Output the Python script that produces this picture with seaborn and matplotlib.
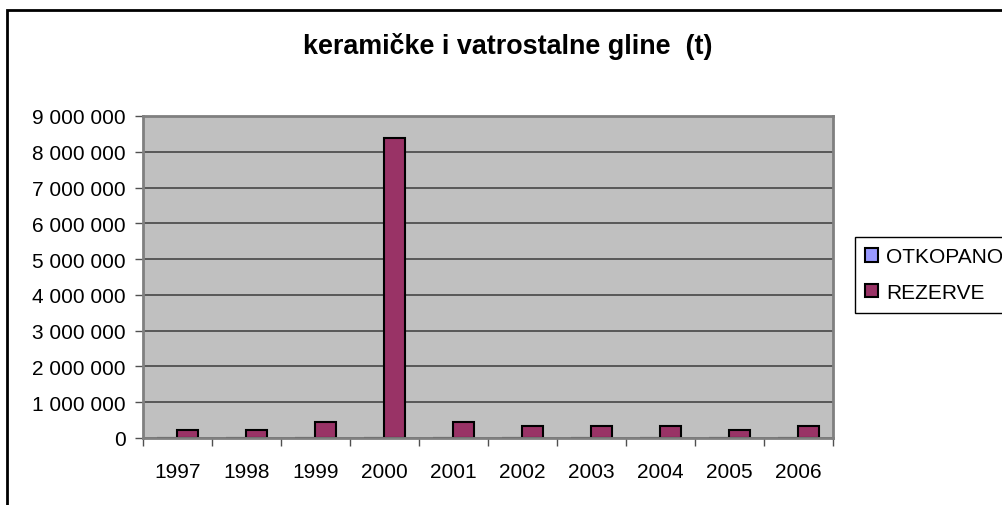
import matplotlib
matplotlib.use("Agg")
import matplotlib.pyplot as plt
import matplotlib.patches as mpatches
from matplotlib.ticker import FuncFormatter, FixedLocator
import pandas as pd
import seaborn as sns


# -----------------------------
# Data
# -----------------------------

years = ["1997", "1998", "1999", "2000", "2001",
         "2002", "2003", "2004", "2005", "2006"]

otkopano = [6000, 6000, 8000, 9000, 8000, 7000, 7000, 7000, 6000, 7000]

rezerve = [220000, 220000, 450000, 8380000, 450000,
           330000, 330000, 330000, 220000, 330000]

series = ["OTKOPANO", "REZERVE"]
colors = ["#9999FF", "#993366"]

title = "keramičke i vatrostalne gline  (t)"

df = pd.DataFrame({
    "godina": years * 2,
    "serija": [series[0]] * len(years) + [series[1]] * len(years),
    "tona": otkopano + rezerve,
})


# -----------------------------
# Figure
# -----------------------------

sns.set_theme(style="white")
plt.rcParams["font.family"] = ["Liberation Sans", "DejaVu Sans"]
plt.rcParams["text.color"] = "black"

fig = plt.figure(figsize=(10.03, 5.06), dpi=100)
fig.patch.set_facecolor("white")

ax = fig.add_axes([143 / 1003, 1 - 439 / 506, 690 / 1003, 322 / 506])

sns.barplot(
    data=df,
    x="godina",
    y="tona",
    hue="serija",
    hue_order=series,
    palette=colors,
    width=0.58,
    edgecolor="black",
    linewidth=1.5,
    saturation=1,
    legend=False,
    ax=ax,
)

ax.set_facecolor("#C0C0C0")
ax.set_ylim(0, 9000000)
ax.set_xlim(-0.5, len(years) - 0.5)
ax.set_yticks(range(0, 9000001, 1000000))
ax.yaxis.set_major_formatter(
    FuncFormatter(lambda v, p: f"{int(v):,}".replace(",", " "))
)
ax.grid(axis="y", color="#505050", linewidth=1.3)
ax.set_axisbelow(True)

for s in ax.spines.values():
    s.set_color("#808080")
    s.set_linewidth(2)

ax.set_xlabel("")
ax.set_ylabel("")

ax.tick_params(axis="y", left=True, length=6, width=1, color="#505050",
               labelsize=15, pad=6.5, labelcolor="black")
ax.tick_params(axis="x", which="major", bottom=False, length=0,
               labelsize=15, pad=17, labelcolor="black")
ax.xaxis.set_minor_locator(FixedLocator([i - 0.5 for i in range(len(years) + 1)]))
ax.tick_params(axis="x", which="minor", bottom=True, length=6, width=1,
               color="#505050")

# legend
handles = [
    mpatches.Patch(facecolor=c, edgecolor="black", linewidth=1.5, label=s)
    for s, c in zip(series, colors)
]
leg = fig.legend(
    handles=handles,
    loc="upper left",
    bbox_to_anchor=(855 / 1003, 1 - 238 / 506),
    borderaxespad=0,
    fontsize=15,
    handlelength=0.6,
    handleheight=0.6,
    handletextpad=0.4,
    labelspacing=0.8,
    borderpad=0.5,
    fancybox=False,
    framealpha=1,
    edgecolor="black",
)
leg.get_frame().set_linewidth(1)

# title
fig.text(508 / 1003, 1 - 47 / 506, title, ha="center", va="center",
         fontsize=19.4, fontweight="bold", color="black")

# outer chart border
fig.patches.append(
    mpatches.Rectangle((7 / 1003, -0.05), 1.1, 1 - 11 / 506 + 0.05,
                       transform=fig.transFigure, fill=False,
                       edgecolor="black", linewidth=2)
)

plt.savefig("out.png", dpi=100)
